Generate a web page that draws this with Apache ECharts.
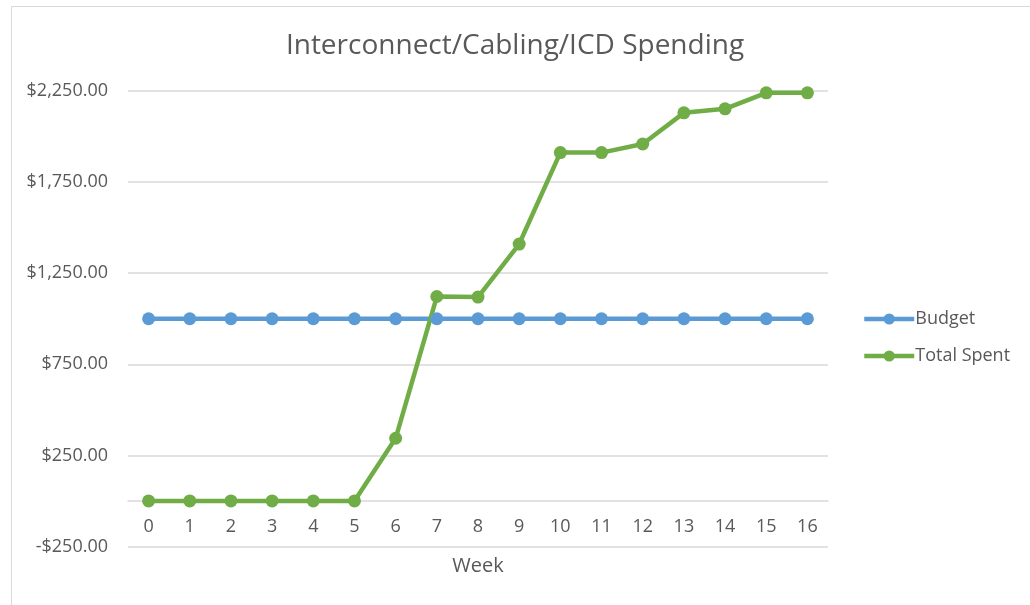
<!DOCTYPE html>
<html>
<head>
<meta charset="utf-8">
<script src="https://cdn.jsdelivr.net/npm/echarts@6/dist/echarts.min.js"></script>
<style>
  html, body { margin: 0; padding: 0; background: #fff; }
  #main { width: 1030px; height: 605px; }
</style>
</head>
<body>
<div id="main"></div>
<script>
const weeks = ['0', '1', '2', '3', '4', '5', '6', '7', '8', '9', '10', '11', '12', '13', '14', '15', '16'];
const budget = [1000, 1000, 1000, 1000, 1000, 1000, 1000, 1000, 1000, 1000, 1000, 1000, 1000, 1000, 1000, 1000, 1000];
const totalSpent = [0, 0, 0, 0, 0, 0, 344, 1122, 1119, 1410, 1912, 1912, 1959, 2130, 2152, 2240, 2240];

const font = '"Open Sans", sans-serif';
const textColor = '#595959';
const gridColor = '#d9d9d9';

function money(v) {
    const s = Math.abs(v).toLocaleString('en-US', { minimumFractionDigits: 2, maximumFractionDigits: 2 });
    return (v < 0 ? '-$' : '$') + s;
}

// grid spans -250..2250 over 455px, so the zero line sits 45.5px above the bottom
const zeroOffset = -45.5;

const myChart = echarts.init(document.getElementById('main'));
myChart.setOption({
    animation: false,
    graphic: [{
        type: 'rect',
        shape: { x: 11.5, y: 6.5, width: 1100, height: 700 },
        style: { fill: 'none', stroke: gridColor, lineWidth: 1 }
    }],
    title: {
        text: 'Interconnect/Cabling/ICD Spending',
        left: 'center',
        top: 27,
        textStyle: { fontFamily: font, fontSize: 28, fontWeight: 'normal', color: textColor }
    },
    legend: {
        orient: 'vertical',
        left: 857,
        top: 305,
        itemWidth: 50,
        itemHeight: 14,
        itemGap: 19,
        lineStyle: { width: 4.5 },
        textStyle: { fontFamily: font, fontSize: 18, color: textColor, padding: [0, 0, 0, -4] },
        data: ['Budget', 'Total Spent']
    },
    grid: { left: 128, right: 202, top: 91, bottom: 58.5, containLabel: false, outerBoundsMode: 'none' },
    xAxis: {
        type: 'category',
        data: weeks,
        name: 'Week',
        nameLocation: 'middle',
        nameGap: 55,
        nameTextStyle: { fontFamily: font, fontSize: 20, color: textColor },
        offset: zeroOffset,
        axisLine: { onZero: false, lineStyle: { color: gridColor, width: 1.5 } },
        axisTick: { show: false },
        axisLabel: { fontFamily: font, fontSize: 18, color: textColor, margin: 17 }
    },
    yAxis: {
        type: 'value',
        min: -250,
        max: 2250,
        interval: 500,
        axisLine: { show: false },
        axisTick: { show: false },
        axisLabel: { fontFamily: font, fontSize: 18, color: textColor, margin: 20, formatter: money },
        splitLine: { lineStyle: { color: gridColor, width: 1.5 } }
    },
    series: [
        {
            name: 'Budget',
            type: 'line',
            data: budget,
            symbol: 'circle',
            symbolSize: 13,
            lineStyle: { width: 4.5, color: '#5b9bd5' },
            itemStyle: { color: '#5b9bd5' }
        },
        {
            name: 'Total Spent',
            type: 'line',
            data: totalSpent,
            symbol: 'circle',
            symbolSize: 13,
            lineStyle: { width: 4.5, color: '#70ad47' },
            itemStyle: { color: '#70ad47' }
        }
    ]
});
</script>
</body>
</html>
